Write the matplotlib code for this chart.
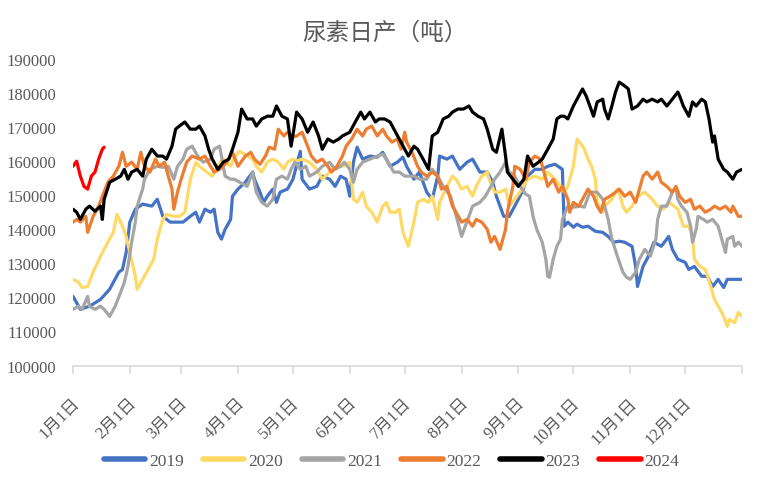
import matplotlib
matplotlib.use("Agg")
import matplotlib.pyplot as plt
from matplotlib.transforms import ScaledTranslation

plt.rcParams['font.family'] = ['Liberation Serif', 'Noto Sans CJK SC']

# day of year / daily output (tonnes)
days_2019 = [0, 4, 9, 15, 20, 25, 27, 29, 31, 34, 38, 43, 46, 49, 53, 57, 60, 64, 67, 69,
             72, 75, 77, 79, 81, 83, 86, 87, 90, 94, 98, 99, 102, 104, 106, 109, 111, 113, 117, 120,
             124, 125, 129, 133, 136, 140, 143, 146, 149, 151, 153, 155, 158, 162, 166, 169, 173, 177, 180, 182,
             186, 189, 193, 196, 199, 200, 204, 207, 211, 215, 218, 222, 226, 229, 231, 235, 238, 241, 245, 248,
             252, 256, 259, 263, 267, 268, 270, 273, 275, 278, 281, 285, 289, 292, 295, 298, 301, 305, 307, 308,
             311, 314, 317, 321, 325, 327, 330, 334, 336, 339, 343, 346, 349, 352, 355, 357, 363, 365]
prod_2019 = [120300, 116500, 117400, 119400, 122400, 127400, 128200, 133200, 142100, 145900,
             147400, 146800, 148800, 143800, 142100, 142100, 142100, 143800, 145000, 142100,
             145900, 145000, 145900, 139100, 137100, 140000, 142900, 149700, 151800, 153800,
             156800, 154700, 150900, 147900, 149700, 151800, 147900, 150900, 151800, 154700,
             162900, 154700, 151800, 152600, 155600, 154700, 152600, 155600, 154700, 149700,
             159700, 164100, 160600, 161500, 161200, 162600, 158500, 159700, 161200, 158500,
             154700, 156800, 150900, 148800, 155600, 161500, 160600, 161500, 157600, 159700,
             160600, 156800, 156800, 153800, 149700, 143800, 143800, 146800, 150900, 155600,
             157600, 157600, 158500, 159100, 157600, 140900, 142100, 140600, 141500, 140600,
             140900, 139400, 139100, 137900, 136200, 136500, 136200, 135000, 129100, 123200,
             129100, 132100, 136200, 135000, 137900, 134100, 131200, 130300, 128200, 129100,
             126200, 126200, 123200, 125300, 122900, 125300, 125300, 125300]

days_2020 = [0, 3, 5, 8, 11, 15, 19, 22, 24, 27, 29, 31, 34, 35, 38, 41, 44, 46, 49, 51,
             55, 58, 61, 64, 67, 69, 73, 76, 79, 82, 86, 88, 91, 95, 98, 100, 103, 106, 109, 112,
             115, 117, 120, 122, 125, 129, 133, 136, 140, 144, 147, 151, 153, 155, 158, 160, 163, 166, 169, 171,
             173, 176, 178, 180, 183, 186, 188, 191, 194, 196, 199, 200, 204, 207, 209, 212, 215, 218, 220, 223,
             226, 227, 230, 233, 236, 238, 241, 245, 248, 252, 256, 259, 263, 266, 268, 270, 273, 275, 278, 279,
             281, 283, 285, 286, 289, 290, 294, 297, 298, 300, 302, 305, 308, 312, 316, 319, 322, 325, 328, 330,
             333, 336, 338, 339, 342, 345, 348, 350, 353, 355, 357, 358, 361, 363, 365]
prod_2020 = [125300, 124400, 122900, 123200, 127400, 132100, 136200, 139100, 144400, 140900,
             137900, 133200, 126200, 122400, 125300, 128200, 131200, 137100, 142900, 144400,
             143800, 143800, 145000, 154700, 159700, 158500, 156800, 155600, 158500, 160600,
             158500, 161200, 162900, 161500, 160600, 158500, 156800, 159700, 160600, 159700,
             157600, 159700, 160600, 160000, 160600, 159700, 157600, 154700, 156800, 158500,
             158500, 159700, 148800, 147900, 150900, 146800, 145000, 142100, 146800, 147900,
             145000, 145000, 145900, 139100, 135000, 142100, 147900, 148800, 147900, 149700,
             142900, 147900, 152600, 155600, 154700, 151800, 152600, 149700, 152600, 155600,
             156800, 154700, 150900, 150900, 151800, 146800, 148800, 151800, 154700, 155600,
             154700, 156800, 154700, 152600, 150900, 152600, 158500, 166500, 164400, 163500,
             160600, 158500, 154700, 147900, 145000, 146800, 148800, 151800, 150900, 146800,
             145000, 146800, 149700, 150900, 148800, 146800, 145900, 147900, 146800, 145900,
             140900, 140900, 137900, 131200, 129100, 128200, 123200, 119400, 116500, 114400,
             111500, 113500, 112600, 115600, 114400]

days_2021 = [0, 3, 5, 8, 9, 12, 15, 17, 20, 23, 26, 28, 30, 32, 34, 35, 38, 39, 42, 46,
             49, 52, 55, 57, 60, 62, 65, 68, 71, 75, 77, 80, 83, 86, 88, 91, 95, 98, 100, 103,
             106, 109, 111, 114, 117, 119, 121, 124, 127, 129, 133, 136, 140, 143, 146, 148, 151, 153, 155, 158,
             162, 166, 169, 172, 175, 178, 181, 186, 189, 193, 196, 199, 202, 206, 208, 210, 212, 214, 216, 218,
             222, 225, 228, 230, 233, 236, 238, 241, 244, 247, 249, 251, 253, 256, 258, 259, 260, 262, 264, 266,
             267, 270, 273, 277, 279, 282, 286, 289, 290, 292, 294, 297, 300, 302, 304, 307, 309, 312, 315, 318,
             319, 321, 324, 327, 329, 330, 332, 335, 337, 338, 340, 341, 344, 346, 349, 352, 354, 356, 357, 360,
             361, 363, 365]
prod_2021 = [116500, 117400, 116500, 120300, 117400, 116500, 117400, 116500, 114400, 117400,
             121500, 124400, 129100, 136200, 142100, 146800, 151800, 154700, 157600, 158500,
             158200, 158500, 154700, 158500, 160600, 163500, 164400, 161500, 159700, 160600,
             163500, 164400, 155600, 154700, 154700, 153800, 152600, 156800, 150900, 147900,
             146800, 148800, 154700, 155600, 154700, 157600, 159700, 157600, 158500, 155600,
             156800, 158500, 159700, 157600, 158500, 159700, 157600, 153800, 157600, 159700,
             160600, 161500, 162100, 159700, 156800, 156800, 155600, 155600, 154700, 154700,
             157600, 155600, 152600, 149700, 145900, 142100, 137900, 140900, 143800, 146800,
             147900, 149700, 152600, 154700, 156800, 159700, 156800, 155600, 152600, 150300,
             149700, 143800, 140000, 136200, 131200, 126200, 125900, 131200, 135000, 137100,
             142900, 146800, 146500, 146800, 146500, 150900, 150900, 148800, 146800, 142900,
             137100, 132100, 127400, 125900, 125300, 127400, 131200, 134100, 132100, 137100,
             142900, 146800, 146800, 150900, 152400, 148800, 146800, 145000, 140900, 136200,
             140000, 143800, 142900, 142100, 142900, 140900, 137100, 133200, 137100, 137900,
             135000, 136200, 135000]

days_2022 = [0, 2, 4, 7, 8, 11, 14, 16, 19, 22, 25, 27, 29, 32, 35, 37, 39, 42, 45, 47,
             50, 52, 54, 55, 57, 59, 62, 65, 69, 72, 75, 77, 80, 84, 87, 90, 94, 97, 99, 102,
             105, 107, 110, 112, 115, 117, 120, 122, 125, 128, 130, 133, 136, 139, 141, 144, 147, 149, 152, 155,
             158, 160, 163, 166, 169, 171, 174, 177, 179, 181, 182, 185, 188, 190, 193, 196, 199, 201, 204, 207,
             209, 212, 215, 218, 220, 223, 226, 228, 230, 233, 236, 237, 240, 241, 244, 247, 249, 252, 255, 257,
             259, 262, 265, 267, 270, 271, 273, 276, 278, 281, 284, 286, 288, 290, 293, 296, 298, 301, 304, 307,
             309, 311, 313, 316, 319, 321, 324, 327, 329, 331, 334, 337, 339, 342, 345, 348, 350, 353, 356, 359,
             360, 363, 365]
prod_2022 = [142100, 142900, 142100, 143800, 139100, 143800, 146800, 149700, 153800, 155600,
             158500, 162600, 158500, 159700, 157600, 162600, 158500, 156800, 160600, 158500,
             159700, 155600, 151800, 145900, 150900, 154700, 159700, 161500, 160600, 161500,
             158500, 156800, 157600, 159700, 162600, 158500, 161500, 162600, 160600, 159100,
             161500, 164100, 163500, 169400, 167400, 168500, 167100, 167400, 168500, 164400,
             161500, 159700, 160600, 158500, 156800, 158500, 161500, 164400, 166500, 169400,
             167400, 169400, 170300, 167400, 169400, 167400, 165600, 166500, 163500, 168500,
             165600, 162600, 158500, 156800, 155600, 156800, 155600, 151800, 152600, 146800,
             145000, 142100, 142900, 140900, 142900, 142100, 140000, 136200, 137900, 134100,
             140000, 145000, 152600, 158500, 157600, 154700, 159700, 161500, 160600, 156800,
             152600, 154700, 150900, 152600, 148800, 145000, 147900, 146800, 148800, 151800,
             149700, 146800, 145000, 148800, 149700, 150900, 151800, 149700, 150900, 147900,
             151800, 155600, 156800, 154700, 156800, 153800, 152600, 150900, 152600, 149700,
             147900, 148800, 145900, 146800, 145000, 145900, 146800, 145900, 146800, 145000,
             146800, 143800, 143800]

days_2023 = [0, 2, 4, 7, 9, 12, 15, 16, 17, 20, 23, 26, 28, 30, 32, 35, 38, 40, 43, 46,
             49, 51, 54, 56, 58, 61, 64, 67, 69, 72, 74, 76, 79, 82, 85, 87, 90, 92, 95, 98,
             100, 103, 106, 109, 111, 114, 117, 119, 122, 125, 128, 131, 134, 136, 139, 142, 145, 147, 151, 154,
             157, 159, 162, 165, 167, 170, 173, 176, 178, 181, 183, 186, 188, 191, 194, 196, 199, 202, 205, 207,
             210, 213, 216, 218, 221, 224, 226, 229, 231, 234, 236, 237, 240, 243, 246, 248, 251, 254, 256, 259,
             262, 264, 266, 268, 270, 273, 275, 278, 280, 282, 284, 286, 289, 290, 292, 294, 296, 298, 301, 303,
             305, 308, 311, 313, 316, 319, 321, 324, 327, 330, 331, 333, 336, 338, 340, 343, 345, 347, 349, 350,
             352, 355, 357, 360, 362, 365]
prod_2023 = [145900, 145000, 142900, 145900, 146800, 145300, 146800, 142900, 148800, 153800,
             154700, 155600, 157600, 154700, 156800, 157600, 155600, 160600, 163500, 161500,
             161500, 160600, 164400, 169400, 170300, 171500, 169400, 169400, 170300, 167400,
             163500, 160600, 157600, 159700, 160600, 163500, 168500, 175300, 172400, 172400,
             170300, 172400, 173200, 173200, 176200, 173200, 172400, 164400, 174400, 172400,
             168500, 171500, 167400, 163500, 166500, 165600, 166500, 167400, 168500, 171500,
             174400, 172400, 174400, 171500, 172400, 172400, 171500, 168500, 166500, 163500,
             161500, 164400, 163500, 160600, 157600, 167400, 168500, 172400, 173200, 174400,
             175300, 175300, 176200, 174400, 173200, 172400, 169400, 163500, 162600, 169400,
             161500, 156800, 154700, 152600, 154700, 161500, 158500, 159700, 160600, 163500,
             166500, 172400, 173200, 173200, 172400, 176200, 178200, 181200, 179100, 176200,
             173200, 177400, 178200, 175300, 172400, 176200, 180300, 183200, 182100, 181200,
             175300, 176200, 178200, 177400, 178200, 177400, 178200, 176200, 178200, 180300,
             179100, 176200, 173200, 177400, 176200, 178200, 177400, 172400, 165600, 167400,
             160600, 157600, 156800, 154700, 156800, 157600]

days_2024 = [0, 2, 4, 6, 8, 10, 12, 14, 16, 17]
prod_2024 = [158500, 160000, 155600, 152600, 151800, 155600, 156800, 160600, 163500, 164100]

years = ['2019', '2020', '2021', '2022', '2023', '2024']
colors = ['#4472C4', '#FFD966', '#A5A5A5', '#ED7D31', '#000000', '#FF0000']

month_starts = [0, 31, 59, 90, 120, 151, 181, 212, 243, 273, 304, 334, 365]
month_labels = ['1月1日', '2月1日', '3月1日', '4月1日', '5月1日', '6月1日', '7月1日',
                '8月1日', '9月1日', '10月1日', '11月1日', '12月1日', '']

all_days = [days_2019, days_2020, days_2021, days_2022, days_2023, days_2024]
all_prod = [prod_2019, prod_2020, prod_2021, prod_2022, prod_2023, prod_2024]

fig = plt.figure(figsize=(7.75, 4.89), dpi=100)
ax = fig.add_axes([0.0942, 0.2505, 0.8632, 0.6268])

for yr, d, v, c in zip(years, all_days, all_prod, colors):
    ax.plot(d, v, color=c, lw=2.3, label=yr, solid_joinstyle='round', solid_capstyle='round')

ax.set_xlim(0, 365)
ax.set_ylim(100000, 190000)
ax.set_yticks(range(100000, 190001, 10000))
ax.set_xticks(month_starts)
ax.set_xticklabels(month_labels)

for side in ['top', 'right', 'left']:
    ax.spines[side].set_visible(False)
ax.spines['bottom'].set_color('#D9D9D9')
ax.spines['bottom'].set_linewidth(1.2)

ax.tick_params(axis='y', length=0, pad=12, labelsize=12, labelcolor='#595959')
ax.tick_params(axis='x', length=6, width=1.2, color='#D9D9D9', direction='out',
               pad=19, labelsize=12, labelcolor='#595959')

shift = ScaledTranslation(3 / 72, 0, fig.dpi_scale_trans)
for lab in ax.get_xticklabels():
    lab.set_rotation(45)
    lab.set_ha('right')
    lab.set_va('center')
    lab.set_rotation_mode('anchor')
    lab.set_transform(lab.get_transform() + shift)

fig.text(0.497, 0.9325, '尿素日产（吨）', ha='center', va='center', fontsize=17,
         color='#595959', family=['Noto Sans CJK SC'])

fig.legend(loc='center', bbox_to_anchor=(0.505, 0.055), ncol=6, frameon=False,
           fontsize=12.5, handlelength=2.4, handletextpad=0.2, columnspacing=1.1,
           labelcolor='#595959')
for line in fig.legends[0].get_lines():
    line.set_linewidth(4)

fig.savefig('out.png', dpi=100)
